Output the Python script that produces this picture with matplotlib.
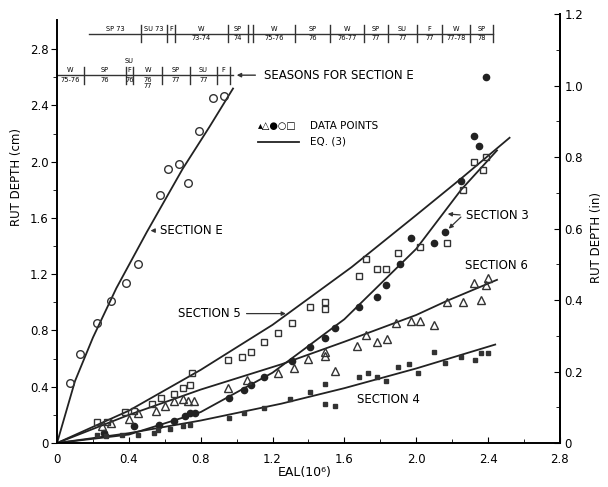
import numpy as np
import matplotlib
matplotlib.use("Agg")
import matplotlib.pyplot as plt
from matplotlib.ticker import MultipleLocator, FixedLocator

plt.rcParams['font.family'] = ['DejaVu Sans']

# --- data (EAL in 10^6, rut depth in cm) ---
# fitted curves, EQ. (3)
line_e_x = [0, 0.1, 0.2, 0.33, 0.5, 0.7, 0.85, 0.98]
line_e_y = [0, 0.44, 0.75, 1.10, 1.50, 1.95, 2.25, 2.52]
line_5_x = [0, 0.4, 0.8, 1.2, 1.64, 2.0, 2.25, 2.52]
line_5_y = [0, 0.23, 0.52, 0.84, 1.25, 1.62, 1.88, 2.17]
line_3_x = [0, 0.4, 0.8, 1.2, 1.6, 2.0, 2.25, 2.45]
line_3_y = [0, 0.06, 0.22, 0.50, 0.88, 1.38, 1.80, 2.08]
line_6_x = [0, 0.4, 0.8, 1.25, 1.6, 2.0, 2.17, 2.45]
line_6_y = [0, 0.20, 0.38, 0.56, 0.72, 0.91, 1.01, 1.16]
line_4_x = [0, 0.4, 0.8, 1.25, 1.6, 2.0, 2.44]
line_4_y = [0, 0.07, 0.16, 0.28, 0.39, 0.53, 0.70]

# data points
sec_e_x = [0.073, 0.13, 0.22, 0.30, 0.385, 0.45, 0.575, 0.62, 0.68, 0.73, 0.79, 0.87, 0.93]
sec_e_y = [0.43, 0.63, 0.85, 1.01, 1.14, 1.27, 1.76, 1.95, 1.98, 1.85, 2.22, 2.45, 2.47]

sec_5_x = [0.22, 0.28, 0.38, 0.43, 0.53, 0.58, 0.65, 0.70, 0.74, 0.75, 0.95, 1.03, 1.08,
           1.15, 1.23, 1.31, 1.41, 1.49, 1.49, 1.68, 1.72, 1.78, 1.83, 1.90, 2.02, 2.17,
           2.26, 2.32, 2.39, 2.37]
sec_5_y = [0.15, 0.15, 0.22, 0.23, 0.28, 0.32, 0.35, 0.39, 0.41, 0.50, 0.59, 0.61, 0.65,
           0.72, 0.78, 0.85, 0.97, 1.00, 0.95, 1.19, 1.31, 1.24, 1.24, 1.35, 1.39, 1.42,
           1.80, 2.00, 2.03, 1.94]

sec_3_x = [0.26, 0.43, 0.57, 0.65, 0.71, 0.74, 0.77, 0.96, 1.04, 1.08, 1.15, 1.31, 1.41,
           1.49, 1.55, 1.68, 1.78, 1.83, 1.91, 1.97, 2.10, 2.16, 2.25, 2.32, 2.35, 2.39]
sec_3_y = [0.07, 0.12, 0.13, 0.16, 0.19, 0.21, 0.21, 0.32, 0.38, 0.41, 0.47, 0.58, 0.68,
           0.75, 0.82, 0.97, 1.04, 1.12, 1.27, 1.46, 1.42, 1.50, 1.86, 2.18, 2.11, 2.60]

sec_6_x = [0.25, 0.30, 0.40, 0.45, 0.55, 0.60, 0.65, 0.70, 0.73, 0.76, 0.95, 1.06, 1.23,
           1.32, 1.40, 1.49, 1.49, 1.55, 1.67, 1.72, 1.78, 1.84, 1.89, 1.97, 2.02, 2.10,
           2.17, 2.26, 2.36, 2.32, 2.40, 2.39]
sec_6_y = [0.12, 0.14, 0.17, 0.21, 0.23, 0.26, 0.30, 0.31, 0.30, 0.30, 0.39, 0.45, 0.50,
           0.53, 0.60, 0.62, 0.65, 0.51, 0.69, 0.77, 0.72, 0.74, 0.85, 0.87, 0.87, 0.84,
           1.00, 1.00, 1.02, 1.14, 1.17, 1.12]

sec_4_x = [0.22, 0.27, 0.36, 0.45, 0.54, 0.56, 0.63, 0.70, 0.74, 0.96, 1.04, 1.15, 1.30,
           1.41, 1.49, 1.49, 1.55, 1.68, 1.73, 1.78, 1.83, 1.90, 1.96, 2.01, 2.10, 2.16,
           2.25, 2.33, 2.36, 2.40]
sec_4_y = [0.06, 0.05, 0.06, 0.06, 0.07, 0.09, 0.10, 0.12, 0.13, 0.18, 0.21, 0.25, 0.31,
           0.36, 0.42, 0.28, 0.26, 0.47, 0.50, 0.47, 0.44, 0.54, 0.56, 0.50, 0.65, 0.57,
           0.61, 0.59, 0.64, 0.64]

# season bars: boundaries and labels (top row: sections 3-6, second row: section E)
top_bounds = [0.18, 0.468, 0.612, 0.657, 0.952, 1.063, 1.091, 1.325, 1.52, 1.709,
              1.843, 2.004, 2.144, 2.30, 2.43]
top_labels = [("SP 73", ""), ("SU 73", ""), ("F", ""), ("W", "73-74"), ("SP", "74"), ("", ""),
              ("W", "75-76"), ("SP", "76"), ("W", "76-77"), ("SP", "77"), ("SU", "77"),
              ("F", "77"), ("W", "77-78"), ("SP", "78")]
e_bounds = [0.0, 0.150, 0.384, 0.423, 0.585, 0.741, 0.891, 0.963]
e_labels = [("W", "75-76"), ("SP", "76"), ("F", "76"), ("W", "76\n77"), ("SP", "77"),
            ("SU", "77"), ("F", "")]

fig = plt.figure(figsize=(6.08, 4.87), dpi=100)
ax = fig.add_axes([0.0938, 0.0903, 0.827, 0.881])

lw = 1.3
for lx, ly in [(line_e_x, line_e_y), (line_5_x, line_5_y), (line_3_x, line_3_y),
               (line_6_x, line_6_y), (line_4_x, line_4_y)]:
    ax.plot(lx, ly, color='#222222', lw=lw)

ax.plot(sec_e_x, sec_e_y, 'o', mfc='none', mec='#333333', ms=5.5, mew=1.0)
ax.plot(sec_5_x, sec_5_y, 's', mfc='none', mec='#333333', ms=4.5, mew=1.0)
ax.plot(sec_3_x, sec_3_y, 'o', color='#222222', ms=4.5)
ax.plot(sec_6_x, sec_6_y, '^', mfc='none', mec='#333333', ms=6, mew=1.0)
ax.plot(sec_4_x, sec_4_y, 's', color='#333333', ms=2.2)

ax.set_xlim(0, 2.8)
ax.set_ylim(0, 3.05)
ax.spines['top'].set_visible(False)
ax.spines['left'].set_bounds(0, 3.01)
for s in ax.spines.values():
    s.set_linewidth(1.4)
ax.xaxis.set_major_locator(MultipleLocator(0.4))
ax.xaxis.set_minor_locator(MultipleLocator(0.2))
ax.yaxis.set_major_locator(FixedLocator([0, 0.4, 0.8, 1.2, 1.6, 2.0, 2.4, 2.8]))
ax.yaxis.set_minor_locator(FixedLocator([0.2, 0.6, 1.0, 1.4, 1.8, 2.2, 2.6]))
ax.xaxis.set_major_formatter(plt.FuncFormatter(lambda v, p: '0' if v == 0 else f'{v:.1f}'))
ax.yaxis.set_major_formatter(plt.FuncFormatter(lambda v, p: '0' if v == 0 else f'{v:.1f}'))
ax.tick_params(axis='x', direction='in', length=4, labelsize=8.5, pad=7)
ax.tick_params(axis='x', which='minor', direction='in', length=3)
ax.tick_params(axis='y', direction='out', length=4, labelsize=8.5, pad=2)
ax.tick_params(axis='y', which='minor', direction='out', length=3)
ax.text(0.493, -0.068, 'EAL(10⁶)', transform=ax.transAxes, ha='center', va='center', fontsize=9)
ax.text(-0.08, 0.62, 'RUT DEPTH (cm)', transform=ax.transAxes, rotation=90,
        ha='center', va='center', fontsize=8.5)

ax2 = ax.twinx()
ax2.set_ylim(0, 3.05 / 2.54)
ax2.yaxis.set_major_locator(MultipleLocator(0.2))
ax2.yaxis.set_minor_locator(MultipleLocator(0.1))
ax2.yaxis.set_major_formatter(plt.FuncFormatter(lambda v, p: '0' if v == 0 else f'{v:.1f}'))
ax2.tick_params(axis='y', direction='in', length=4, labelsize=8.5)
ax2.tick_params(axis='y', which='minor', direction='in', length=3)
for k in ['top', 'left', 'bottom']:
    ax2.spines[k].set_visible(False)
ax2.spines['right'].set_linewidth(1.4)
ax2.text(1.073, 0.48, 'RUT DEPTH (in)', transform=ax.transAxes, rotation=90,
         ha='center', va='center', fontsize=8.5)

# season bars
def season_row(y, bounds, labels, x0, x1):
    ax.plot([x0, x1], [y, y], color='#333333', lw=1.0)
    for b in bounds[1:]:
        ax.plot([b, b], [y - 0.06, y + 0.06], color='#333333', lw=1.0)
    for (a, b), (up, down) in zip(zip(bounds[:-1], bounds[1:]), labels):
        xc = (a + b) / 2
        if up:
            ax.text(xc, y + 0.012, up, ha='center', va='bottom', fontsize=4.8)
        if down:
            ax.text(xc, y - 0.012, down, ha='center', va='top', fontsize=4.8,
                    linespacing=1.1)

season_row(2.91, top_bounds, top_labels, top_bounds[0], top_bounds[-1])
season_row(2.615, e_bounds, e_labels, 0.0, 0.98)
ax.text(0.403, 2.715, 'SU', ha='center', va='center', fontsize=4.8)
ax.annotate('', xy=(0.985, 2.615), xytext=(1.12, 2.615),
            arrowprops=dict(arrowstyle='-|>', color='#333333', lw=1.0, mutation_scale=6))
ax.text(1.15, 2.615, 'SEASONS FOR SECTION E', ha='left', va='center', fontsize=8.5)

# legend
ax.text(1.12, 2.253, '▴△●○□', ha='left', va='center', fontsize=7)
ax.text(1.41, 2.253, 'DATA POINTS', ha='left', va='center', fontsize=7.5)
ax.plot([1.12, 1.35], [2.14, 2.14], color='#222222', lw=lw)
ax.text(1.41, 2.14, 'EQ. (3)', ha='left', va='center', fontsize=7.5)

# section labels
arrow = dict(arrowstyle='-|>', color='#333333', lw=0.9, mutation_scale=6)
ax.annotate('SECTION E', xy=(0.505, 1.51), xytext=(0.575, 1.51), fontsize=8.5,
            va='center', ha='left', arrowprops=arrow)
ax.annotate('SECTION 5', xy=(1.29, 0.92), xytext=(0.675, 0.92), fontsize=8.5,
            va='center', ha='left', arrowprops=arrow)
ax.text(2.28, 1.62, 'SECTION 3', ha='left', va='center', fontsize=8.5)
ax.annotate('', xy=(2.16, 1.63), xytext=(2.26, 1.62), arrowprops=arrow)
ax.annotate('', xy=(2.17, 1.51), xytext=(2.26, 1.62), arrowprops=arrow)
ax.text(2.27, 1.26, 'SECTION 6', ha='left', va='center', fontsize=8.5)
ax.text(1.67, 0.31, 'SECTION 4', ha='left', va='center', fontsize=8.5)

fig.savefig('out.png', dpi=100)
